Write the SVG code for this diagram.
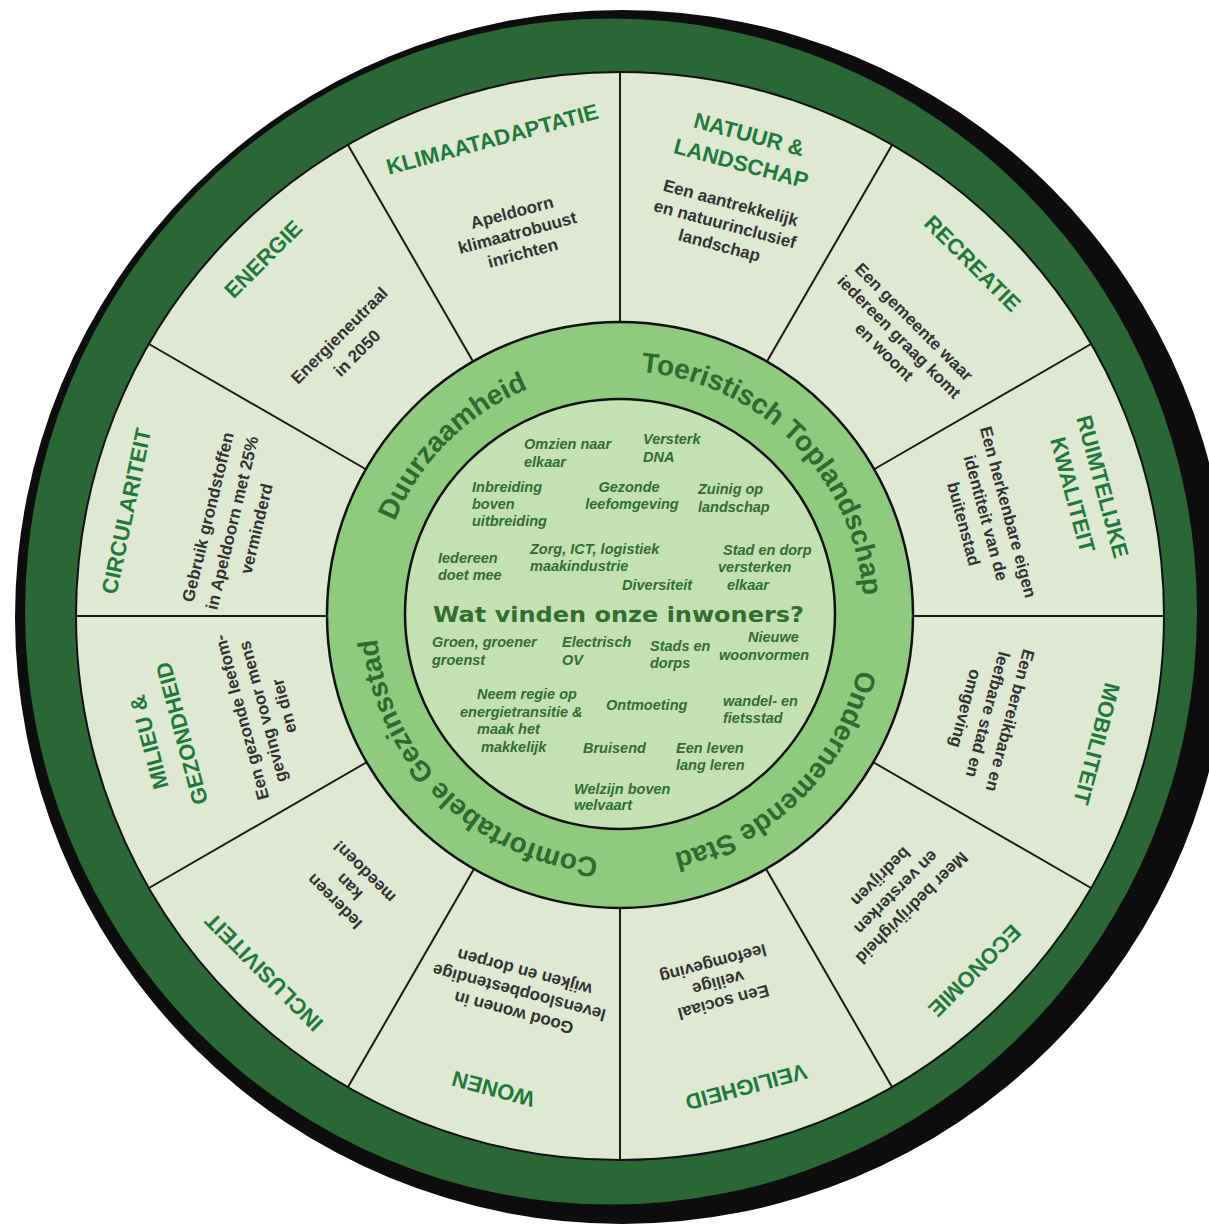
<svg xmlns="http://www.w3.org/2000/svg" xmlns:xlink="http://www.w3.org/1999/xlink" width="1209" height="1226" viewBox="0 0 1209 1226">
<style>
.t{font-family:"Liberation Sans",Arial,sans-serif;font-weight:bold;font-size:22px;fill:#1f7a3c;text-anchor:middle}
.d{font-family:"Liberation Sans",Arial,sans-serif;font-weight:bold;font-size:17px;fill:#333;text-anchor:middle}
.r{font-family:"Liberation Sans",Arial,sans-serif;font-weight:bold;font-size:28px;fill:#2d6b30;text-anchor:middle}
.i{font-family:"Liberation Sans",Arial,sans-serif;font-weight:bold;font-style:italic;font-size:14.5px;fill:#336d2f}
.m{text-anchor:middle}
.q{font-family:"DejaVu Sans",Verdana,sans-serif;font-weight:bold;font-size:21px;fill:#336d2f}
.div{stroke:#1a1a1a;stroke-width:2;fill:none}
</style>
<defs>
<path id="ringpath" d="M620,371 A244,244 0 0 1 620,859 A244,244 0 0 1 620,371"/>
</defs>
<rect width="1209" height="1226" fill="#ffffff"/>
<g id="outer-ring">
<circle cx="622" cy="617" r="607" fill="#0d0d0d"/>
<ellipse cx="611" cy="611.5" rx="586" ry="593" fill="#2b6636"/>
<circle cx="620" cy="616" r="544" fill="#dfe8d3" stroke="#111" stroke-width="2"/>
</g>
<g id="connectors">
<line class="div" x1="620" y1="323" x2="620" y2="72"/>
<line class="div" x1="766.5" y1="362.3" x2="892" y2="144.9"/>
<line class="div" x1="873.7" y1="469.5" x2="1091.1" y2="344"/>
<line class="div" x1="913" y1="616" x2="1164" y2="616"/>
<line class="div" x1="873.7" y1="762.5" x2="1091.1" y2="888"/>
<line class="div" x1="766.5" y1="869.7" x2="892" y2="1087.1"/>
<line class="div" x1="620" y1="909" x2="620" y2="1160"/>
<line class="div" x1="473.5" y1="869.7" x2="348" y2="1087.1"/>
<line class="div" x1="366.3" y1="762.5" x2="148.9" y2="888"/>
<line class="div" x1="327" y1="616" x2="76" y2="616"/>
<line class="div" x1="366.3" y1="469.5" x2="148.9" y2="344"/>
<line class="div" x1="473.5" y1="362.3" x2="348" y2="144.9"/>
</g>
<g id="sector-klimaatadaptatie" transform="translate(620 616) rotate(-15)">
<text class="t" y="-486">KLIMAATADAPTATIE</text>
<text class="d" y="-412">Apeldoorn</text>
<text class="d" y="-391">klimaatrobuust</text>
<text class="d" y="-370">inrichten</text>
</g>
<g id="sector-natuur-landschap" transform="translate(620 616) rotate(15)">
<text class="t" y="-491">NATUUR &amp;</text>
<text class="t" y="-461">LANDSCHAP</text>
<text class="d" y="-422">Een aantrekkelijk</text>
<text class="d" y="-400">en natuurinclusief</text>
<text class="d" y="-378">landschap</text>
</g>
<g id="sector-recreatie" transform="translate(620 616) rotate(45)">
<text class="t" y="-491">RECREATIE</text>
<text class="d" y="-410">Een gemeente waar</text>
<text class="d" y="-389">iedereen graag komt</text>
<text class="d" y="-368">en woont</text>
</g>
<g id="sector-ruimtelijke-kwaliteit" transform="translate(620 616) rotate(75)">
<text class="t" y="-492">RUIMTELIJKE</text>
<text class="t" y="-461">KWALITEIT</text>
<text class="d" y="-396">Een herkenbare eigen</text>
<text class="d" y="-373">identiteit van de</text>
<text class="d" y="-350">buitenstad</text>
</g>
<g id="sector-mobiliteit" transform="translate(620 616) rotate(105)">
<text class="t" y="-486">MOBILITEIT</text>
<text class="d" y="-398">Een bereikbare en</text>
<text class="d" y="-375">leefbare stad en</text>
<text class="d" y="-352">omgeving</text>
</g>
<g id="sector-economie" transform="translate(620 616) rotate(135)">
<text class="t" y="-494">ECONOMIE</text>
<text class="d" y="-407">Meer bedrijvigheid</text>
<text class="d" y="-385">en versterken</text>
<text class="d" y="-363">bedrijven</text>
</g>
<g id="sector-veiligheid" transform="translate(620 616) rotate(165)">
<text class="t" y="-480">VEILIGHEID</text>
<text class="d" y="-394">Een sociaal</text>
<text class="d" y="-374">veilige</text>
<text class="d" y="-354">leefomgeving</text>
</g>
<g id="sector-wonen" transform="translate(620 616) rotate(195)">
<text class="t" y="-482">WONEN</text>
<text class="d" y="-405">Good wonen in</text>
<text class="d" y="-384">levensloopbestendige</text>
<text class="d" y="-363">wijken en dorpen</text>
</g>
<g id="sector-inclusiviteit" transform="translate(620 616) rotate(225)">
<text class="t" y="-496">INCLUSIVITEIT</text>
<text class="d" y="-398">Iedereen</text>
<text class="d" y="-377">kan</text>
<text class="d" y="-356">meedoen!</text>
</g>
<g id="sector-milieu-gezondheid" transform="translate(620 616) rotate(255)">
<text class="t" y="-480">MILIEU &amp;</text>
<text class="t" y="-446">GEZONDHEID</text>
<text class="d" y="-386">Een gezonde leefom-</text>
<text class="d" y="-364">geving voor mens</text>
<text class="d" y="-342">en dier</text>
</g>
<g id="sector-circulariteit" transform="translate(620 616) rotate(282)">
<text class="t" y="-497">CIRCULARITEIT</text>
</g>
<g id="sector-circulariteit-desc" transform="translate(620 616) rotate(283.5)">
<text class="d" y="-418">Gebruik grondstoffen</text>
<text class="d" y="-393">in Apeldoorn met 25%</text>
<text class="d" y="-368">verminderd</text>
</g>
<g id="sector-energie" transform="translate(620 616) rotate(315)">
<text class="t" y="-497">ENERGIE</text>
<text class="d" y="-391">Energieneutraal</text>
<text class="d" y="-366">in 2050</text>
</g>
<g id="middle-ring">
<circle cx="620" cy="615" r="293" fill="#8fca7f" stroke="#111" stroke-width="2.5"/>
<text class="r"><textPath xlink:href="#ringpath" href="#ringpath" startOffset="1341.5">Duurzaamheid</textPath></text>
<text class="r"><textPath xlink:href="#ringpath" href="#ringpath" startOffset="192.3">Toeristisch Toplandschap</textPath></text>
<text class="r"><textPath xlink:href="#ringpath" href="#ringpath" startOffset="574.9">Ondernemende Stad</textPath></text>
<text class="r"><textPath xlink:href="#ringpath" href="#ringpath" startOffset="956.7">Comfortabele Gezinsstad</textPath></text>
</g>
<g id="inner-circle">
<circle cx="620" cy="614" r="215" fill="#c4e1b3" stroke="#111" stroke-width="2.5"/>
<text class="i" x="524" y="449">Omzien naar</text>
<text class="i" x="524" y="467">elkaar</text>
<text class="i" x="643" y="444">Versterk</text>
<text class="i" x="643" y="462">DNA</text>
<text class="i" x="472" y="492">Inbreiding</text>
<text class="i" x="472" y="509">boven</text>
<text class="i" x="472" y="526">uitbreiding</text>
<text class="i m" x="629" y="492">Gezonde</text>
<text class="i m" x="632" y="509">leefomgeving</text>
<text class="i" x="698" y="494">Zuinig op</text>
<text class="i" x="698" y="512">landschap</text>
<text class="i" x="530" y="554">Zorg, ICT, logistiek</text>
<text class="i" x="530" y="571">maakindustrie</text>
<text class="i" x="438" y="563">Iedereen</text>
<text class="i" x="438" y="580">doet mee</text>
<text class="i" x="723" y="555">Stad en dorp</text>
<text class="i" x="718" y="572">versterken</text>
<text class="i" x="727" y="590">elkaar</text>
<text class="i" x="622" y="590">Diversiteit</text>
<text class="q" x="433" y="622" textLength="371" lengthAdjust="spacingAndGlyphs">Wat vinden onze inwoners?</text>
<text class="i" x="432" y="647">Groen, groener</text>
<text class="i" x="432" y="665">groenst</text>
<text class="i" x="562" y="647">Electrisch</text>
<text class="i" x="562" y="665">OV</text>
<text class="i" x="650" y="651">Stads en</text>
<text class="i" x="650" y="668">dorps</text>
<text class="i" x="748" y="642">Nieuwe</text>
<text class="i" x="719" y="660">woonvormen</text>
<text class="i" x="477" y="699">Neem regie op</text>
<text class="i" x="460" y="717">energietransitie &amp;</text>
<text class="i" x="477" y="734">maak het</text>
<text class="i" x="481" y="752">makkelijk</text>
<text class="i" x="606" y="710">Ontmoeting</text>
<text class="i" x="723" y="706">wandel- en</text>
<text class="i" x="723" y="723">fietsstad</text>
<text class="i" x="583" y="753">Bruisend</text>
<text class="i" x="676" y="753">Een leven</text>
<text class="i" x="676" y="770">lang leren</text>
<text class="i" x="574" y="794">Welzijn boven</text>
<text class="i" x="574" y="810">welvaart</text>
</g>
</svg>
